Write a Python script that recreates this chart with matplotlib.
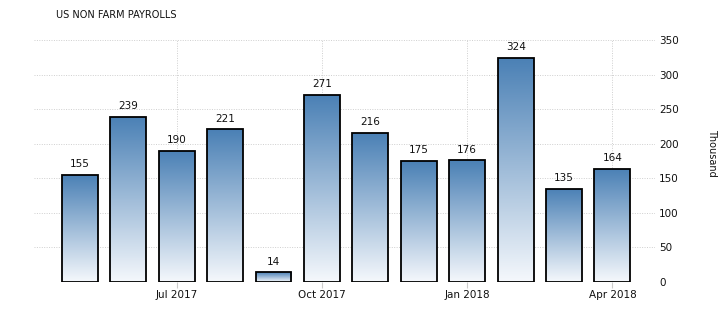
import matplotlib
matplotlib.use("Agg")
import matplotlib.pyplot as plt
import numpy as np
from matplotlib.colors import LinearSegmentedColormap

months = ["May 2017", "Jun 2017", "Jul 2017", "Aug 2017", "Sep 2017", "Oct 2017",
          "Nov 2017", "Dec 2017", "Jan 2018", "Feb 2018", "Mar 2018", "Apr 2018"]
values = [155, 239, 190, 221, 14, 271, 216, 175, 176, 324, 135, 164]
tick_idx = [2, 5, 8, 11]
tick_labels = ["Jul 2017", "Oct 2017", "Jan 2018", "Apr 2018"]
yticks = [0, 50, 100, 150, 200, 250, 300, 350]

fig = plt.figure(figsize=(7.22, 3.18), dpi=100)
ax = fig.add_axes([34/722, 36/318, (655-34)/722, (282-40)/318])

cmap = LinearSegmentedColormap.from_list("g", ["#f5f8fc", "#4a80b5"])
grad = np.linspace(0, 1, 256).reshape(-1, 1)
x = np.arange(len(values))
width = 0.74
bars = ax.bar(x, values, width=width, facecolor="none", edgecolor="black", linewidth=1.3, zorder=3)
for b, v in zip(bars, values):
    x0 = b.get_x()
    im = ax.imshow(grad, extent=(x0, x0 + width, 0, v), origin="lower", aspect="auto",
                   cmap=cmap, zorder=2)
    im.set_clip_path(b)
    ax.text(b.get_x() + width/2, v + 8, str(v), ha="center", va="bottom", fontsize=7.5, color="#111111", zorder=4)

ax.set_xlim(-0.95, 11.88)
ax.set_ylim(0, 350)
ax.set_xticks(tick_idx)
ax.set_xticklabels(tick_labels, fontsize=7.5, color="#111111")
ax.set_yticks(yticks)
ax.set_yticklabels([str(t) for t in yticks], fontsize=7.5, color="#111111")
ax.yaxis.tick_right()
ax.tick_params(axis="y", length=0, pad=3)
ax.tick_params(axis="x", length=4, color="#cccccc", pad=2)
for s in ax.spines.values():
    s.set_visible(False)
ax.grid(True, linestyle=(0, (1, 1.5)), color="#cfcfcf", linewidth=0.7, zorder=0)
ax.set_axisbelow(True)

fig.text(712/722, 165/318, "Thousand", rotation=270, ha="center", va="center", fontsize=7, color="#111111")
fig.text(56/722, 1 - 15/318, "US NON FARM PAYROLLS", ha="left", va="center", fontsize=7, color="#111111")

fig.savefig("out.png", dpi=100)
